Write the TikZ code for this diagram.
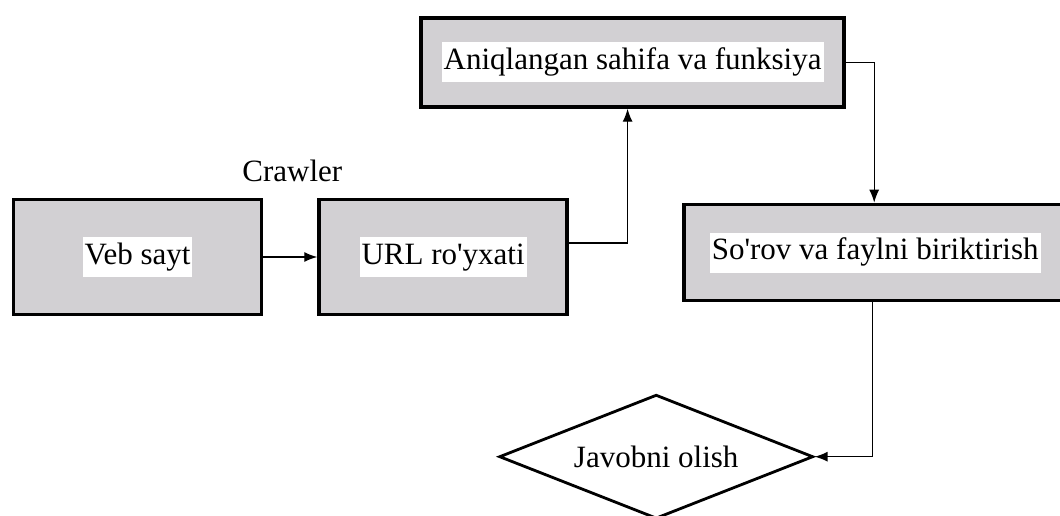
\documentclass[tikz,border=0pt]{standalone}
\usepackage{fontspec}
\setmainfont{Liberation Serif}
\usetikzlibrary{arrows.meta,positioning,shapes.geometric}
\definecolor{boxgray}{RGB}{210,208,211}
\newcommand{\whitebg}[1]{{\setlength{\fboxsep}{2pt}\colorbox{white}{\strut #1}}}

\begin{document}
\begin{tikzpicture}[
      every node/.style={font=\fontsize{31}{36}\selectfont},
      box/.style={draw=black, fill=boxgray, line width=3.6pt,
                  minimum width=248pt, minimum height=115pt, align=center,
                  inner sep=2pt},
      decision/.style={diamond, draw=black, line width=2.8pt, aspect=2.5,
                       minimum width=314pt, minimum height=124pt, inner sep=0pt},
      arr/.style={-{Latex[length=13pt, width=10pt]}, line width=1.3pt},
      lbl/.style={inner sep=0pt},
    ]
    \clip (0pt,0pt) rectangle (1060pt,-516pt);

    % ── Left row: site and URL list ─────────────────────────
    \node[box] (veb) at (137.5pt,-257pt) {\whitebg{Veb sayt}};
    \node[box, right=54pt of veb] (url) {\whitebg{URL ro\textquotesingle yxati}};
    \node[lbl, above=16pt of veb.north east, xshift=29pt] (crawl) {Crawler};

    % ── Top: found page ─────────────────────────────────────
    \node[box, above=89pt of url, xshift=189.5pt,
          minimum width=423pt, minimum height=89pt] (aniq)
      {\whitebg{Aniqlangan sahifa va funksiya}};

    % ── Right: query ────────────────────────────────────────
    \node[box, right=113pt of url, yshift=4.5pt,
          minimum width=383pt, minimum height=96pt] (sorov)
      {\whitebg{So\textquotesingle rov va faylni biriktirish}};

    % ── Bottom: answer ──────────────────────────────────────
    \node[decision, below=91pt of sorov, xshift=-219pt] (javob) {Javobni olish};

    % ── Arrows ──────────────────────────────────────────────
    \draw[arr] (veb) -- (url);
    \draw[arr] ([yshift=14pt]url.east) -| ([xshift=-5pt]aniq.south);
    \draw[arr] (aniq.east) -| ([xshift=-1pt]sorov.north);
    \draw[arr] ([xshift=-3pt]sorov.south) |- (javob.east);
  \end{tikzpicture}
\end{document}
